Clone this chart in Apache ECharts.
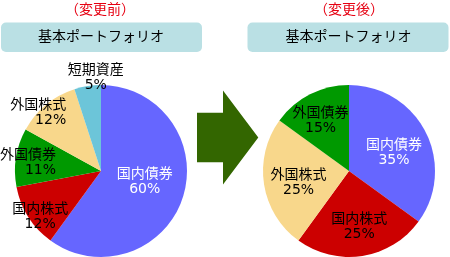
<!DOCTYPE html>
<html><head><meta charset="utf-8">
<script src="https://cdn.jsdelivr.net/npm/echarts@6/dist/echarts.min.js"></script>
<style>html,body{margin:0;padding:0;background:#fff}#c{width:450px;height:257px}</style>
</head><body><div id="c"></div>
<script>
const beforeTitle = '（変更前）';
const afterTitle = '（変更後）';
const boxTitle = '基本ポートフォリオ';
const beforeNames = ['国内債券', '国内株式', '外国債券', '外国株式', '短期資産'];
const beforeValues = [60, 12, 11, 12, 5];
const afterNames = ['国内債券', '国内株式', '外国株式', '外国債券'];
const afterValues = [35, 25, 25, 15];

const colorMap = {'国内債券':'#6666ff','国内株式':'#cc0000','外国債券':'#009900','外国株式':'#f8d78b','短期資産':'#6cc5d9'};
const FONT = '"DejaVu Sans", "Noto Sans CJK JP", sans-serif';
// label layout tweaks (style only)
const beforeLabelAdj = [{dx:0,dy:-3,align:'center'},{dx:-22,dy:21,align:'center'},{dx:0.5,dy:-1,align:'right'},{dx:-5.5,dy:-23,align:'right'},{dx:2,dy:-48,align:'center'}];
const afterLabelAdj = [{dx:4,dy:2.5,align:'center'},{dx:3,dy:10,align:'center'},{dx:-5,dy:5,align:'center'},{dx:-7.5,dy:-9,align:'center'}];

function mkData(names, values){
  return names.map((n,i)=>({name:n,value:values[i],itemStyle:{color:colorMap[n]},
    label:{color: n==='国内債券' ? '#ffffff' : '#000000'}}));
}
function mkSeries(names, values, center, adj){
  return {
    type:'pie', center:center, radius:86, startAngle:90, clockwise:true,
    silent:true, animation:false,
    label:{show:true, position:'inside', formatter:'{b}\n{d}%', fontSize:14, lineHeight:15, fontFamily:FONT},
    labelLine:{show:false},
    labelLayout: function(p){ const a = adj[p.dataIndex]; return {dx:a.dx, dy:a.dy, align:a.align}; },
    emphasis:{disabled:true},
    data: mkData(names, values)
  };
}
const chart = echarts.init(document.getElementById('c'), null, {renderer:'canvas'});
chart.setOption({
  animation:false,
  graphic:[
    {type:'text', style:{text:beforeTitle, x:100, y:10, fill:'#e60012', font:'14px '+FONT, align:'center', verticalAlign:'middle'}},
    {type:'text', style:{text:afterTitle, x:349, y:10, fill:'#e60012', font:'14px '+FONT, align:'center', verticalAlign:'middle'}},
    {type:'rect', shape:{x:1, y:22.5, width:201, height:29.5, r:5}, style:{fill:'#bae0e4'}},
    {type:'rect', shape:{x:247.5, y:22.5, width:201, height:29.5, r:5}, style:{fill:'#bae0e4'}},
    {type:'text', style:{text:boxTitle, x:101, y:37.5, fill:'#000', font:'14px '+FONT, align:'center', verticalAlign:'middle'}},
    {type:'text', style:{text:boxTitle, x:348.5, y:37.5, fill:'#000', font:'14px '+FONT, align:'center', verticalAlign:'middle'}},
    {type:'polygon', shape:{points:[[197,112.7],[223,112.7],[223,90.5],[258.3,137.5],[223,184.5],[223,162.3],[197,162.3]]}, style:{fill:'#336600'}}
  ],
  series:[
    mkSeries(beforeNames, beforeValues, [101,171], beforeLabelAdj),
    mkSeries(afterNames, afterValues, [349,171], afterLabelAdj)
  ]
});
</script></body></html>
